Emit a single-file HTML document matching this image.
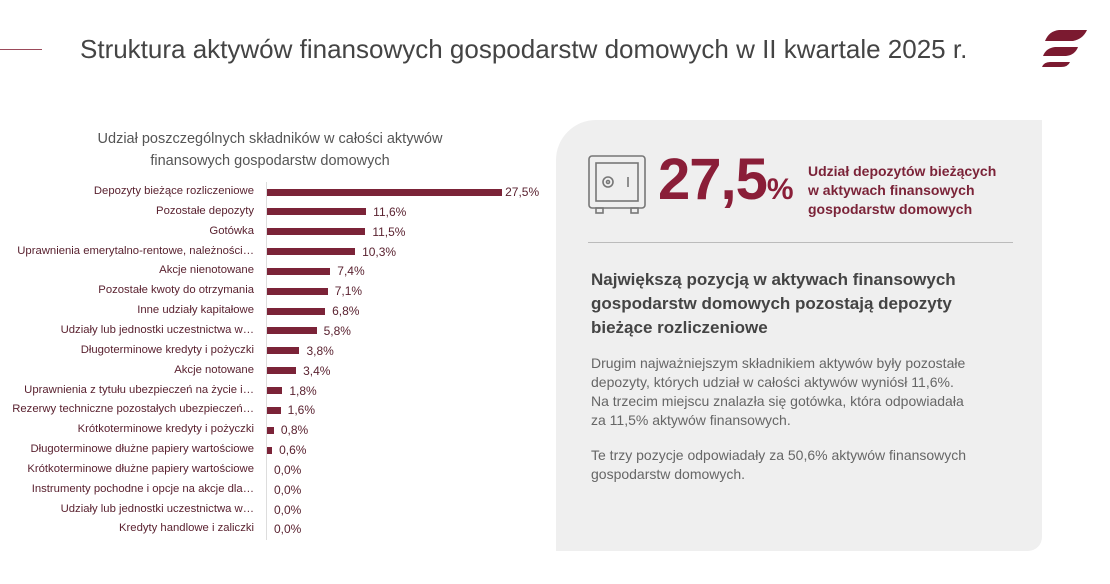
<!DOCTYPE html>
<html><head><meta charset="utf-8"><style>
body{margin:0;width:1110px;height:584px;background:#fff;font-family:"Liberation Sans",sans-serif;position:relative;overflow:hidden}
.a{position:absolute}
.lbl{position:absolute;right:856px;font-size:11.3px;color:#5a2230;white-space:nowrap;text-align:right}
.bar{position:absolute;left:267px;height:7px;background:#7b2338}
.val{position:absolute;font-size:12px;color:#5a2230}
</style></head><body>
<div class="a" style="left:0;top:49px;width:42px;height:1px;background:#9b4a5a"></div>
<div class="a" style="left:80px;top:34px;font-size:26px;color:#444">Struktura aktywów finansowych gospodarstw domowych w II kwartale 2025 r.</div>
<svg class="a" style="left:1035px;top:25px" width="55" height="45">
<path d="M10 16 Q14 6 24 5 L52 5 Q48 14 38 16 Z" fill="#7b1a30"/>
<path d="M8 31 Q11 23 20 22 L43 22 Q40 30 31 31 Z" fill="#7b1a30"/>
<path d="M7 42 Q9 37 15 37 L35 37 Q33 42 26 42 Z" fill="#7b1a30"/>
</svg>
<div class="a" style="left:60px;top:128px;width:420px;text-align:center;font-size:14.5px;color:#555;line-height:22px">Udział poszczególnych składników w całości aktywów<br>finansowych gospodarstw domowych</div>
<div class="a" style="left:266px;top:182px;width:1px;height:358px;background:#ddd"></div>
<div id="c"></div>
<script>
var d=[["Depozyty bieżące rozliczeniowe",27.5],["Pozostałe depozyty",11.6],["Gotówka",11.5],["Uprawnienia emerytalno-rentowe, należności…",10.3],["Akcje nienotowane",7.4],["Pozostałe kwoty do otrzymania",7.1],["Inne udziały kapitałowe",6.8],["Udziały lub jednostki uczestnictwa w…",5.8],["Długoterminowe kredyty i pożyczki",3.8],["Akcje notowane",3.4],["Uprawnienia z tytułu ubezpieczeń na życie i…",1.8],["Rezerwy techniczne pozostałych ubezpieczeń…",1.6],["Krótkoterminowe kredyty i pożyczki",0.8],["Długoterminowe dłużne papiery wartościowe",0.6],["Krótkoterminowe dłużne papiery wartościowe",0],["Instrumenty pochodne i opcje na akcje dla…",0],["Udziały lub jednostki uczestnictwa w…",0],["Kredyty handlowe i zaliczki",0]];
var h="";d.forEach(function(r,i){var y=192+i*19.85;var w=r[1]*8.55;
h+='<div class="lbl" style="top:'+(y-7)+'px">'+r[0]+'</div>';
if(w>0)h+='<div class="bar" style="top:'+(y-3.5)+'px;width:'+w+'px"></div>';
h+='<div class="val" style="top:'+(y-7)+'px;left:'+(267+w+(r[1]>20?3:7))+'px">'+r[1].toFixed(1).replace(".",",")+'%</div>';});
document.getElementById("c").innerHTML=h;
</script>
<div class="a" style="left:556px;top:120px;width:486px;height:431px;background:#efefef;border-radius:40px 0 14px 0"></div>
<svg class="a" style="left:588px;top:155px" width="60" height="65" fill="none" stroke="#777" stroke-width="1.6">
<rect x="1" y="1" width="56" height="52" rx="3"/><rect x="8" y="8" width="42" height="38"/>
<circle cx="20" cy="27" r="5"/><circle cx="20" cy="27" r="1.5"/><line x1="40" y1="22" x2="40" y2="32"/>
<rect x="8" y="53" width="7" height="5"/><rect x="43" y="53" width="7" height="5"/></svg>
<div class="a" style="left:658px;top:146px;font-size:58px;font-weight:bold;color:#8a1e38;letter-spacing:-1px">27,5<span style="font-size:30px">%</span></div>
<div class="a" style="left:808px;top:162px;font-size:14px;font-weight:bold;color:#7b2338;line-height:19px">Udział depozytów bieżących<br>w aktywach finansowych<br>gospodarstw domowych</div>
<div class="a" style="left:588px;top:242px;width:425px;height:1px;background:#bbb"></div>
<div class="a" style="left:591px;top:268px;font-size:17px;font-weight:bold;color:#444;line-height:24px">Największą pozycją w aktywach finansowych<br>gospodarstw domowych pozostają depozyty<br>bieżące rozliczeniowe</div>
<div class="a" style="left:591px;top:354px;font-size:14px;color:#666;line-height:19px">Drugim najważniejszym składnikiem aktywów były pozostałe<br>depozyty, których udział w całości aktywów wyniósł 11,6%.<br>Na trzecim miejscu znalazła się gotówka, która odpowiadała<br>za 11,5% aktywów finansowych.</div>
<div class="a" style="left:591px;top:446px;font-size:14px;color:#666;line-height:19px">Te trzy pozycje odpowiadały za 50,6% aktywów finansowych<br>gospodarstw domowych.</div>
</body></html>
